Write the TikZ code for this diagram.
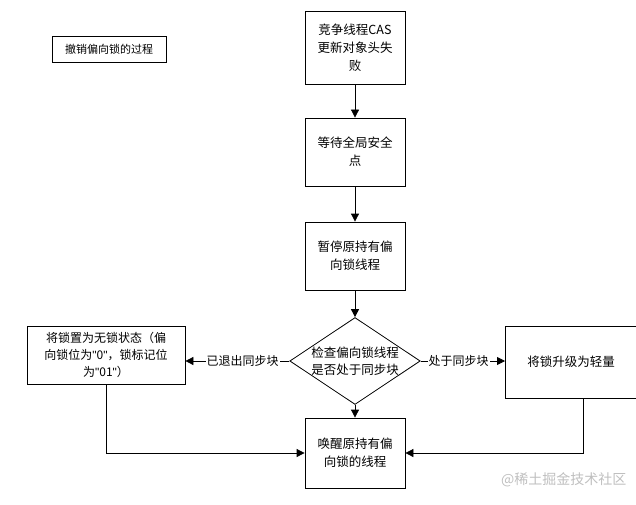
\documentclass[tikz,border=0pt]{standalone}
\usepackage{fontspec}
\setmainfont{Noto Sans CJK SC}
\newfontfamily\lat{Liberation Sans}
\usetikzlibrary{shapes.geometric,arrows.meta}
\begin{document}
\begin{tikzpicture}[x=1pt,y=-1pt,
  box/.style={draw,thick,fill=white,align=center,font=\fontsize{12.5}{18}\selectfont,inner sep=1pt},
  arr/.style={draw,thick,-{Triangle[length=8pt,width=8pt]}},
  lab/.style={fill=white,font=\fontsize{12}{14}\selectfont,inner sep=1pt}]
\useasboundingbox (0,0) rectangle (636,505);
\begin{scope}
\clip (0,0) rectangle (636,505);
\node[draw,thin,minimum width=114,minimum height=26,font=\fontsize{11}{13}\selectfont] (t) at (109,49) {撤销偏向锁的过程};
\node[box,minimum width=100,minimum height=73] (b1) at (355,48) {竞争线程CAS\\更新对象头失\\败};
\node[box,minimum width=100,minimum height=68] (b2) at (355,152) {等待全局安全\\点};
\node[box,minimum width=100,minimum height=68] (b3) at (355,256) {暂停原持有偏\\向锁线程};
\node[draw,thick,diamond,aspect=1.5,minimum width=118,minimum height=78,inner sep=0pt,align=center,font=\fontsize{12.5}{17}\selectfont] (d) at (355,361) {检查偏向锁线程\\是否处于同步块};
\node[box,minimum width=158,minimum height=58,font=\fontsize{12}{17}\selectfont] (l) at (106,355) {将锁置为无锁状态（偏\\向锁位为{\lat"}0{\lat"}，锁标记位\\为{\lat"}01{\lat"}）};
\node[box,minimum width=150,minimum height=72,anchor=west,text width=140,align=left] (r) at (505,362) {\hspace*{17pt}将锁升级为轻量};
\node[box,minimum width=100,minimum height=70] (b4) at (355,453) {唤醒原持有偏\\向锁的线程};
\end{scope}
\draw[arr] (b1) -- (b2);
\draw[arr] (b2) -- (b3);
\draw[arr] (b3) -- (d);
\draw[arr] (d.west) -- node[lab,pos=0.45]{已退出同步块} (l.east |- d.west);
\draw[arr] (d.east) -- node[lab,pos=0.45]{处于同步块} (r.west |- d.east);
\draw[arr] (b4.north |- d.south) -- (b4);
\draw[arr] (l.south) -- (l.south |- b4.west) -- (b4.west);
\coordinate (rb) at (583,398);
\draw[arr] (rb) -- (rb |- b4.east) -- (b4.east);
\node[text=gray!50,font=\fontsize{14}{16}\selectfont,anchor=east] (w) at (630,480) {@稀土掘金技术社区};
\end{tikzpicture}
\end{document}
